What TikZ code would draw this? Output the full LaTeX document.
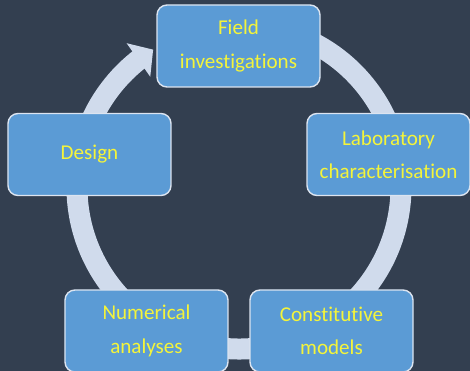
\documentclass[tikz,border=0pt]{standalone}
\usepackage{fontspec}
\setmainfont{Carlito}[Ligatures={NoCommon,NoContextual}]
\usepackage{tikz}
\usetikzlibrary{arrows.meta,bending,positioning,calc}
\definecolor{bgcol}{HTML}{333F50}
\definecolor{boxcol}{HTML}{5B9BD5}
\definecolor{edgecol}{HTML}{DCE4F0}
\definecolor{ringcol}{HTML}{D0DBEC}
\definecolor{txtcol}{HTML}{F4F43A}

\begin{document}
\begin{tikzpicture}[font=\fontsize{12}{19}\selectfont,
  stage/.style={draw=edgecol,line width=0.8pt,fill=boxcol,rounded corners=0.2cm,
                minimum width=3.26cm,minimum height=1.64cm,text width=3.1cm,
                align=center,text=txtcol,inner sep=1pt},
  ringarrow/.style={ringcol,line width=0.42cm,
                    -{Triangle[width=0.8cm,length=0.36cm,flex]}},
]
% ---------- background ----------
\fill[bgcol] (0,0) rectangle (9.4,7.42);
\useasboundingbox (0,0) rectangle (9.4,7.42);

% ---------- cycle ring ----------
\coordinate (hub) at (4.78,3.68);
\draw[ringarrow] ($(hub)+(80:3.24)$) arc[start angle=80,end angle=-238,radius=3.24];

% ---------- stages ----------
\node[stage] (field)   at (4.77,6.5)  {Field\\investigations};
\node[stage] (lab)     at (7.77,4.33) {Laboratory\\characterisation};
\node[stage] (constit) at (6.63,0.8)  {Constitutive\\models};
\node[stage] (numer)   at (2.93,0.8)  {Numerical\\analyses};
\node[stage] (design)  at (1.79,4.33) {Design};
\end{tikzpicture}
\end{document}
